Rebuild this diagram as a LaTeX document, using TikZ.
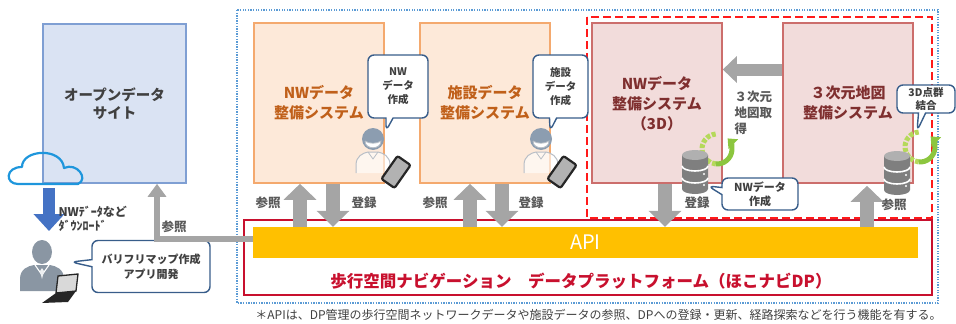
\documentclass[tikz,border=0pt]{standalone}
\usepackage{fontspec}
\setmainfont{Noto Sans CJK JP}
\usetikzlibrary{arrows.meta,shapes.callouts}

\definecolor{odfill}{HTML}{DAE3F3}
\definecolor{odline}{HTML}{7F9FD3}
\definecolor{txtgray}{HTML}{404040}
\definecolor{lblgray}{HTML}{595959}
\definecolor{peachfill}{HTML}{FDE9D9}
\definecolor{peachline}{HTML}{F4A96E}
\definecolor{peachtext}{HTML}{C0601A}
\definecolor{pinkfill}{HTML}{F2DCDB}
\definecolor{pinkline}{HTML}{CC6E6C}
\definecolor{pinktext}{HTML}{7F2F2F}
\definecolor{calloutblue}{HTML}{385D8A}
\definecolor{arrowgray}{HTML}{A5A5A5}
\definecolor{apiyellow}{HTML}{FFC000}
\definecolor{dpred}{HTML}{C8102E}
\definecolor{dashred}{HTML}{FF1A1A}
\definecolor{dotblue}{HTML}{5B9BD5}
\definecolor{cloudblue}{HTML}{1E96DC}
\definecolor{dlblue}{HTML}{4472C4}
\definecolor{recyclegreen}{HTML}{8CC63F}
\definecolor{recyclelight}{HTML}{B5D95A}
\definecolor{dbdark}{HTML}{7F7F7F}
\definecolor{dblight}{HTML}{B0B0B0}
\definecolor{persongray}{HTML}{8A96A3}
\definecolor{hairblue}{HTML}{8C9DB0}
\definecolor{bodygray}{HTML}{B8BEC6}

\tikzset{
  titlefont/.style={font=\bfseries\fontsize{15}{20}\selectfont},
  sysbox/.style={draw=peachline, fill=peachfill, line width=1.6pt, text=peachtext,
    minimum width=130pt, minimum height=160pt, inner sep=0pt, align=center, titlefont},
  sys3d/.style={sysbox, draw=pinkline, fill=pinkfill, text=pinktext},
  cbox/.style={rectangle callout, draw=calloutblue, fill=white, line width=1.4pt,
    rounded corners=6pt, align=center, inner sep=1pt, text=txtgray,
    font=\bfseries\fontsize{10.5}{14}\selectfont},
  lbl/.style={text=lblgray, font=\bfseries\fontsize{12.5}{15}\selectfont},
  garrow/.style={draw=arrowgray, line width=14pt,
    -{Triangle[length=16pt 0 0, width=32pt 0 0]}},
  midarrow/.style={draw=arrowgray, line width=12pt,
    -{Triangle[length=14pt 0 0, width=26pt 0 0]}},
  thinarrow/.style={draw=arrowgray, line width=6pt,
    -{Triangle[length=13pt 0 0, width=18pt 0 0]}},
  dlarrow/.style={draw=dlblue, line width=12pt,
    -{Triangle[length=17pt 0 0, width=30pt 0 0]}},
  % user at a laptop, solid silhouette
  userpic/.pic={
    \fill[persongray] (0,-13) ellipse[x radius=10, y radius=12];
    \fill[persongray] (-22,26) -- (-22,14) .. controls (-22,4) and (-14,1) .. (-8,0)
      -- (8,0) .. controls (14,1) and (22,4) .. (22,14) -- (22,26) -- cycle;
    \draw[white, line width=1.1pt] (-7,0) -- (0,10) -- (7,0);
    \fill[white!85!persongray] (0,3) -- (-2,6) -- (0,14) -- (2,6) -- cycle;
  },
  % operator icon, light outline
  operatorpic/.pic={
    \draw[bodygray, line width=1pt, fill=white, fill opacity=0.6]
      (-17,23) -- (-17,15) .. controls (-17,6) and (-10,3) .. (-5,2)
      -- (5,2) .. controls (10,3) and (17,6) .. (17,15) -- (17,23);
    \draw[bodygray, line width=0.8pt] (-5,2) -- (0,9) -- (5,2);
    \fill[hairblue] (0,-11) circle[radius=11];
    \draw[bodygray, line width=0.8pt, fill=white]
      (-8,-9) .. controls (-8,0) and (8,0) .. (8,-9)
      .. controls (4,-6) and (-4,-6) .. (-8,-9);
  },
  tabletpic/.pic={
    \draw[black!85, fill=black!30, line width=2.2pt, rounded corners=2pt]
      (-8,-14) rectangle (8,14);
  },
  laptoppic/.pic={
    \draw[black!85, line width=1.3pt, fill=white!85!black]
      (-4,-12) -- (16,-14) -- (14,3) -- (-6,5) -- cycle;
    \fill[black!85] (-6,5) -- (14,3) -- (6,14) -- (-20,15) -- cycle;
  },
  dbpic/.pic={
    \fill[dbdark] (-13,-15) -- (-13,19)
      arc[start angle=180, end angle=0, x radius=13, y radius=5] -- (13,-15) -- cycle;
    \draw[white, line width=1.6pt] (-13,-4) arc[start angle=180, end angle=0, x radius=13, y radius=5];
    \draw[white, line width=1.6pt] (-13,8) arc[start angle=180, end angle=0, x radius=13, y radius=5];
    \fill[dblight] (0,-15) ellipse[x radius=13, y radius=5];
    \fill[white] (9,4) circle[radius=1.2] (9,15) circle[radius=1.2];
  },
  % circular refresh mark: broken arc on the left, solid arc with head on the right
  recyclepic/.pic={
    \draw[recyclelight, line width=5pt, dash pattern=on 4pt off 1.8pt]
      (0,0) ++(-95:15) arc[start angle=-95, end angle=-265, radius=15];
    \draw[recyclegreen, line width=5pt, -{Triangle[length=8pt 0 0, width=13pt 0 0]}]
      (0,0) ++(95:15) arc[start angle=95, end angle=-45, radius=15];
  }
}

\begin{document}
\begin{tikzpicture}[x=1pt, y=-1pt]
\useasboundingbox (0,0) rectangle (956,324);

% ---------- frames ----------
\draw[dotblue, line width=1.3pt, dash pattern=on 1.3pt off 1.3pt] (237,10) rectangle (938,303);
\draw[dashred, line width=2.5pt, dash pattern=on 8pt off 4pt] (587,17) rectangle (932,218);
\node[draw=dpred, line width=1.6pt, minimum width=688pt, minimum height=75pt, inner sep=0pt]
  (dp) at (588,257.5) {};

% ---------- open data site ----------
\node[draw=odline, fill=odfill, line width=1.6pt, minimum width=143pt, minimum height=159pt,
  inner sep=0pt, align=center, text=txtgray, font=\bfseries\fontsize{14.5}{18}\selectfont]
  (od) at (114.5,103.5) {オープンデータ\\サイト};

% cloud outline over the box corner
\draw[cloudblue, line width=2.2pt, line join=round]
  (18,184) .. controls (5,184) and (5,167) .. (22,167)
  .. controls (22,149) and (62,147) .. (64,168)
  .. controls (77,162) and (89,179) .. (78,184) -- cycle;
\coordinate (cloudbot) at (49,188);
\coordinate (userhead) at (49,231);
\draw[dlarrow] (cloudbot) -- (userhead);
\node[anchor=west, align=left, text=txtgray, font=\bfseries\fontsize{12}{14}\selectfont]
  (dltext) at (55,219) {NWﾃﾞｰﾀなど\\ﾀﾞｳﾝﾛｰﾄﾞ};

% app developer
\pic at (42,265) {userpic};
\pic at (62,288) {laptoppic};
\node[cbox, minimum width=118pt, minimum height=52pt, callout absolute pointer={(71,262)},
  font=\bfseries\fontsize{11}{15}\selectfont]
  (app) at (151,266.5) {バリフリマップ作成\\アプリ開発};

% ---------- data preparation systems ----------
\node[sysbox] (nw) at (319,103) {NWデータ\\整備システム};
\node[sysbox] (fac) at (485,103) {施設データ\\整備システム};
\node[sys3d, text depth=0pt] (nw3d) at (657,103) {NWデータ\\整備システム\\（3D）};
\node[sys3d] (map3d) at (848,103) {３次元地図\\整備システム};

% operators with tablets
\pic at (373,150) {operatorpic};
\pic[rotate=-35] at (396,172) {tabletpic};
\pic at (541,150) {operatorpic};
\pic[rotate=-35] at (562,172) {tabletpic};

\node[cbox, minimum width=60pt, minimum height=63pt, callout absolute pointer={(386,131)}]
  (nwc) at (398,86.5) {NW\\データ\\作成};
\node[cbox, minimum width=55pt, minimum height=63pt, callout absolute pointer={(550,131)}]
  (facc) at (560.5,86.5) {施設\\データ\\作成};

% 3D map retrieval arrow
\draw[midarrow] ([yshift=33.5pt]map3d.west) -- ([yshift=33.5pt]nw3d.east);
\node[anchor=north west, align=left, text=lblgray, font=\bfseries\fontsize{12.5}{16}\selectfont]
  (getmap) at (731,87) {３次元\\地図取\\得};

% databases with refresh marks
\pic at (717,149) {recyclepic};
\pic at (695,170) {dbpic};
\pic at (920,147) {recyclepic};
\pic at (897,171) {dbpic};
\node[cbox, minimum width=76pt, minimum height=32pt, callout absolute pointer={(708,186)},
  font=\bfseries\fontsize{11}{14}\selectfont]
  (nw3dc) at (760,194) {NWデータ\\作成};
\node[cbox, minimum width=58pt, minimum height=28pt, callout absolute pointer={(917,131)},
  font=\bfseries\fontsize{10.5}{13}\selectfont]
  (ptc) at (926,99) {3D点群\\結合};

% ---------- API bar and platform ----------
\node[fill=apiyellow, minimum width=665pt, minimum height=31pt, inner sep=0pt,
  text=white, font=\fontsize{20}{22}\selectfont] (api) at (585.5,242.5) {API};
\node[text=dpred, font=\bfseries\fontsize{16.5}{20}\selectfont] (dptext) at (581,281)
  {歩行空間ナビゲーション　データプラットフォーム（ほこナビDP）};

% reference / registration arrows
\coordinate (nwup) at ([xshift=-19pt]nw.south);
\coordinate (nwdn) at ([xshift=14pt]nw.south);
\coordinate (facup) at ([xshift=-15pt]fac.south);
\coordinate (facdn) at ([xshift=17pt]fac.south);
\coordinate (n3dn) at ([xshift=8pt]nw3d.south);
\coordinate (mapup) at ([xshift=19pt]map3d.south);
\draw[garrow] (nwup |- api.north) -- (nwup);
\draw[garrow] (nwdn) -- (nwdn |- api.north);
\draw[garrow] (facup |- api.north) -- (facup);
\draw[garrow] (facdn) -- (facdn |- api.north);
\draw[garrow] (n3dn) -- (n3dn |- api.north);
\draw[garrow] (mapup |- api.north) -- ([yshift=-2pt]mapup);

\node[lbl] (r1) at (268,203) {参照};
\node[lbl] (g1) at (364,203) {登録};
\node[lbl] (r2) at (435,203) {参照};
\node[lbl] (g2) at (531,203) {登録};
\node[lbl] (g3) at (697,203) {登録};
\node[lbl] (r3) at (894,205) {参照};

% open data reference
\draw[thinarrow] ([yshift=3.5pt]api.west) -| ([xshift=42.5pt]od.south);
\node[lbl] (r0) at (174,227) {参照};

% footnote
\node[text=txtgray, font=\fontsize{12}{14}\selectfont] (note) at (598.5,315)
  {＊APIは、DP管理の歩行空間ネットワークデータや施設データの参照、DPへの登録・更新、経路探索などを行う機能を有する。};
\end{tikzpicture}
\end{document}
